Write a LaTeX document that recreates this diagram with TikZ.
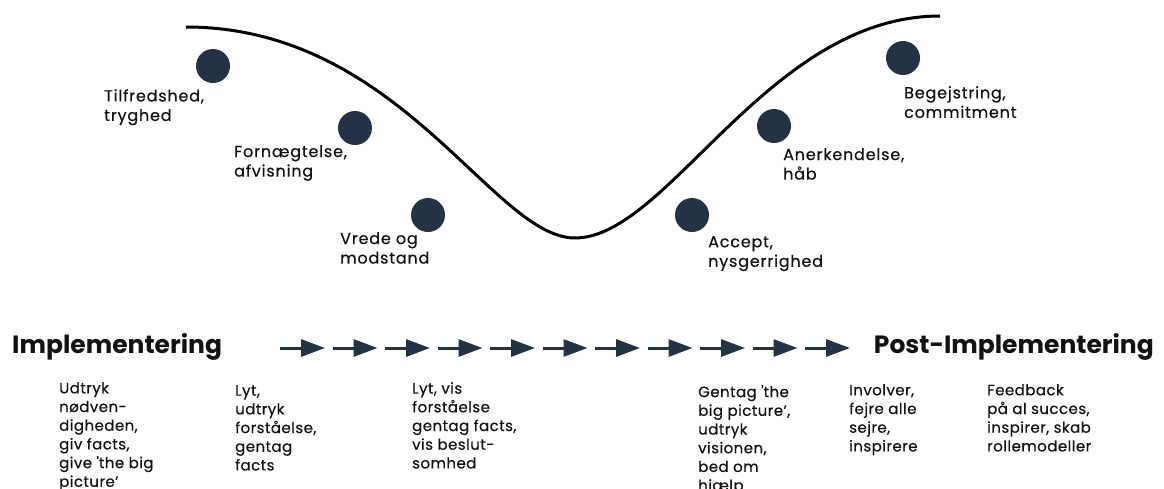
\documentclass[tikz,border=0pt]{standalone}
\usepackage{fontspec}
\setmainfont{Poppins}
\newfontfamily\feelfont{Poppins}[UprightFeatures={FakeBold=0.4}, LetterSpace=5]
\newfontfamily\advicefont{Poppins}[UprightFeatures={FakeBold=0.4}, LetterSpace=3]
\usetikzlibrary{arrows.meta}
\definecolor{navy}{HTML}{243245}
\definecolor{ink}{HTML}{111111}
\tikzset{
  stage/.style={circle, fill=navy, draw=none, minimum size=34pt, inner sep=0pt},
  feel/.style={anchor=north west, inner sep=0pt, align=left, text=ink,
    font=\feelfont\fontsize{16}{19.5}\selectfont},
  advice/.style={anchor=north west, inner sep=0pt, align=left, text=ink,
    font=\advicefont\fontsize{15}{18.7}\selectfont},
  phase/.style={inner sep=0pt, text=ink, font=\fontsize{25}{29}\selectfont\bfseries},
  flowarrow/.style={draw=navy, line width=3pt,
    -{Triangle[length=24pt, width=17pt]}},
  curve/.style={draw=black, line width=3pt}
}
\begin{document}
\begin{tikzpicture}[x=1pt, y=-1pt]
\useasboundingbox (0,0) rectangle (1164,488);

% change curve
\coordinate (cstart) at (186,27);
\coordinate (cbottom) at (575,238);
\coordinate (cend) at (940,16);
\draw[curve] (cstart) .. controls (400,27) and (493,238) .. (cbottom)
  .. controls (668,238) and (768,16) .. (cend);

% stages
\node[stage] (d1) at (213,66) {};
\node[stage] (d2) at (355,128) {};
\node[stage] (d3) at (428,215) {};
\node[stage] (d4) at (692,215) {};
\node[stage] (d5) at (774,126) {};
\node[stage] (d6) at (903,58) {};

\node[feel] (f1) at (104,89) {Tilfredshed,\\tryghed};
\node[feel] (f2) at (234,145) {Fornægtelse,\\afvisning};
\node[feel] (f3) at (340,232) {Vrede og\\modstand};
\node[feel] (f4) at (708,236) {Accept,\\nysgerrighed};
\node[feel] (f5) at (783,148) {Anerkendelse,\\håb};
\node[feel] (f6) at (904,86) {Begejstring,\\commitment};

% phases
\node[phase, anchor=west] (impl) at (12,347) {Implementering};
\node[phase, anchor=east] (post) at (1154,347) {Post-Implementering};

% flow arrows
\foreach \i in {0,...,10} {
  \coordinate (s\i) at ({280+52.5*\i},348);
  \coordinate (e\i) at ({325+52.5*\i},348);
  \draw[flowarrow] (s\i) -- (e\i);
}

% advice per phase
\node[advice] (a1) at (59,382) {Udtryk\\nødven-\\digheden,\\giv facts,\\give \textquotesingle the big\\picture’};
\node[advice] (a2) at (235,385) {Lyt,\\udtryk\\forståelse,\\gentag\\facts};
\node[advice] (a3) at (412,382) {Lyt, vis\\forståelse\\gentag facts,\\vis beslut-\\somhed};
\node[advice] (a4) at (698,385) {Gentag \textquotesingle the\\big picture’,\\udtryk\\visionen,\\bed om\\hjælp};
\node[advice] (a5) at (849,384) {Involver,\\fejre alle\\sejre,\\inspirere};
\node[advice] (a6) at (987,384) {Feedback\\på al succes,\\inspirer, skab\\rollemodeller};
\end{tikzpicture}
\end{document}
